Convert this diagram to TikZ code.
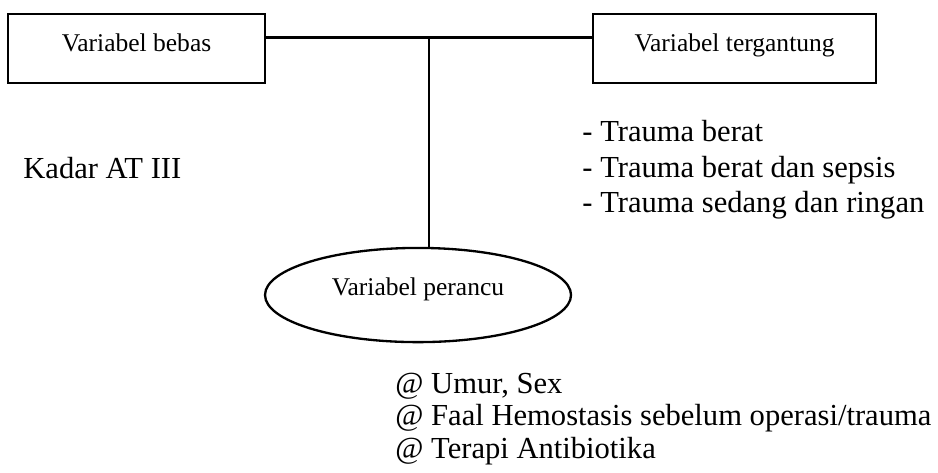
\documentclass[tikz,border=0pt]{standalone}
\usepackage{fontspec}
\setmainfont{Liberation Serif}
\usetikzlibrary{shapes.geometric, positioning, calc}

\tikzset{
    varbox/.style={draw, line width=1.1pt, inner sep=0pt, minimum width=#1,
        text height=0.63cm, text depth=0.52cm, font=\fontsize{12.1}{14}\selectfont},
    varoval/.style={draw, line width=1.1pt, ellipse, inner sep=0pt, minimum width=5.1cm,
        minimum height=1.57cm, text height=0.3cm, text depth=0.3cm,
        font=\fontsize{12.1}{14}\selectfont},
    link/.style={line width=1.1pt},
    bigtxt/.style={anchor=base west, inner sep=0pt, font=\fontsize{14.5}{17}\selectfont}
}

\begin{document}
\begin{tikzpicture}
\useasboundingbox (0,0) rectangle (15.633,7.867);

% Variables
\node[varbox=4.283cm] (bebas) at (2.275,7.058) {Variabel bebas};
\node[varbox=4.717cm] (tergantung) at (12.242,7.058) {Variabel tergantung};
\node[varoval] (perancu) at (6.967,2.95) {Variabel perancu};

% Connecting lines
\coordinate (hub) at (7.15,7.242);
\draw[link] (bebas.east |- hub) -- (tergantung.west |- hub);
\draw[link] (hub) -- (hub |- perancu.north);

% Lists
\node[bigtxt] (kadar) at (0.383,4.895) {Kadar AT III};
\foreach \t [count=\i] in {Trauma berat, Trauma berat dan sepsis, Trauma sedang dan ringan} {
    \node[bigtxt] (trauma\i) at (9.7,{5.505-0.592*(\i-1)}) {- \t};
}
\foreach \t [count=\i] in {{@ Umur, Sex}, {@ Faal Hemostasis sebelum operasi/trauma}, {@ Terapi Antibiotika}} {
    \node[bigtxt] (faktor\i) at (6.583,{1.31-0.54*(\i-1)}) {\t};
}
\end{tikzpicture}
\end{document}
